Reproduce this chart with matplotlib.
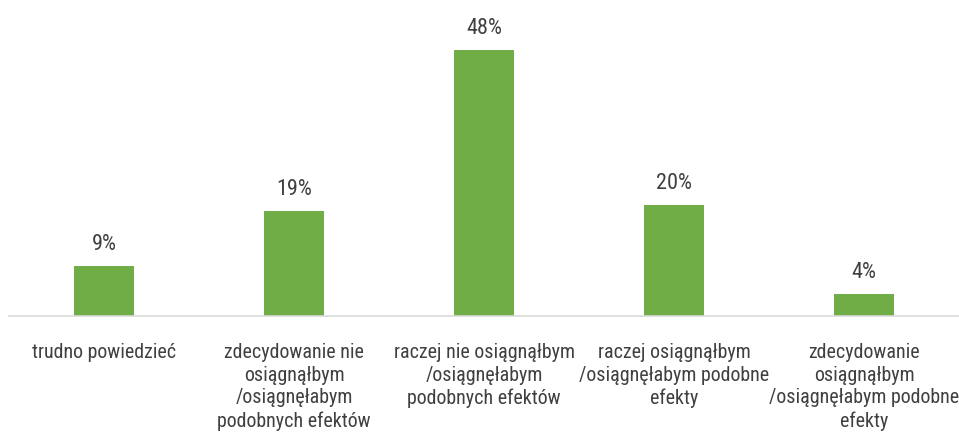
import matplotlib
matplotlib.use('Agg')
import matplotlib.pyplot as plt
from matplotlib import font_manager

categories = [
    "trudno powiedzieć",
    "zdecydowanie nie\nosiągnąłbym\n/osiągnęłabym\npodobnych efektów",
    "raczej nie osiągnąłbym\n/osiągnęłabym\npodobnych efektów",
    "raczej osiągnąłbym\n/osiągnęłabym podobne\nefekty",
    "zdecydowanie\nosiągnąłbym\n/osiągnęłabym podobne\nefekty",
]
values = [9, 19, 48, 20, 4]
value_labels = ["9%", "19%", "48%", "20%", "4%"]

# condensed face if we have one, otherwise Roboto (narrower than DejaVu)
names = {f.name for f in font_manager.fontManager.ttflist}
font = 'DejaVu Sans'
for cand in ['Liberation Sans Narrow', 'Roboto Condensed', 'Open Sans Condensed', 'Roboto']:
    if cand in names:
        font = cand
        break
plt.rcParams['font.family'] = [font, 'DejaVu Sans']

fig = plt.figure(figsize=(9.59, 4.44), dpi=100)
ax = fig.add_axes([9 / 959, 128 / 444, 950 / 959, 316 / 444])

x = list(range(len(values)))
ax.bar(x, values, width=0.316, color='#70AD47', zorder=2)
ax.set_xlim(-0.5, len(values) - 0.5)
ax.set_ylim(0, 57)

for xi, v, lab in zip(x, values, value_labels):
    ax.text(xi, v + 2.0, lab, ha='center', va='bottom', fontsize=16,
            color='#404040', fontstretch='condensed')

for xi, cat in zip(x, categories):
    ax.text(xi, -4.9, cat, ha='center', va='top', fontsize=14.4, color='#404040',
            linespacing=1.24, fontstretch='condensed')

for s in ['top', 'right', 'left']:
    ax.spines[s].set_visible(False)
ax.spines['bottom'].set_color('#D9D9D9')
ax.spines['bottom'].set_linewidth(1.2)
ax.set_xticks([])
ax.set_yticks([])

fig.savefig('out.png', dpi=100, facecolor='white')
